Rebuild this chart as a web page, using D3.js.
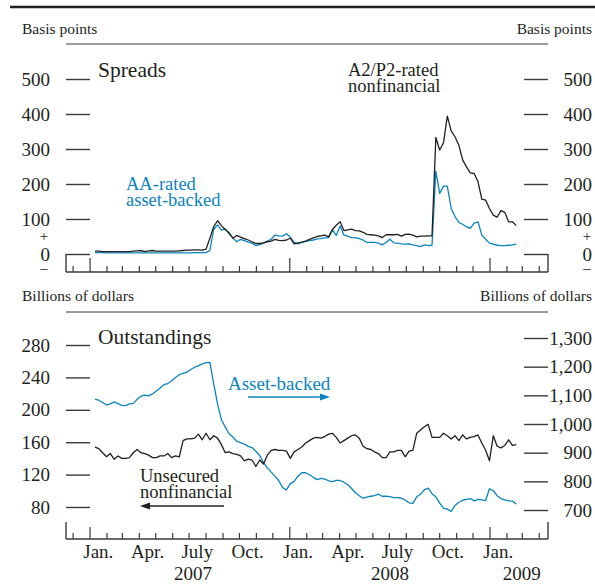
<!DOCTYPE html>
<html>
<head>
<meta charset="utf-8">
<script src="https://cdn.jsdelivr.net/npm/d3@7"></script>
<style>
  html, body { margin: 0; padding: 0; background: #fff; }
  svg text { font-family: "Liberation Serif", "Times New Roman", serif; fill: #231f20; }
</style>
</head>
<body>
<svg id="chart" width="595" height="585"></svg>
<script>
// ---------- DATA (weekly, starting 2007-01-10) ----------
const startDate = new Date(2007, 0, 10);

// Spreads, basis points
const spreadA2P2 = [
  8,8,7,7,7,7,7,7,7,7,
  8,9,10,7,9,10,8,8,8,8,
  8,8,9,10,11,11,12,12,11,14,
  45,78,95,81,70,61,45,53,48,44,
  40,35,30,30,32,35,37,42,39,38,
  40,45,29,32,34,37,42,46,50,52,
  54,49,70,82,92,67,69,71,67,66,
  62,56,55,54,52,47,55,55,55,56,
  51,56,57,54,49,51,51,52,52,333,
  297,318,394,352,335,311,269,249,232,230,
  207,157,154,130,111,105,124,119,92,92,81
];
const spreadAA = [
  4,4,4,3,3,3,3,3,3,3,
  3,3,3,3,3,3,3,3,3,3,
  3,3,3,3,3,3,4,4,4,4,
  10,70,83,68,72,58,46,35,42,38,
  34,31,24,27,31,37,42,54,52,51,
  58,48,33,29,33,36,38,40,43,44,
  46,47,69,53,80,54,51,47,47,44,
  40,33,33,33,31,26,33,42,32,31,
  29,28,29,26,24,21,26,24,25,237,
  173,194,194,130,107,90,85,78,73,88,
  92,54,42,31,28,25,24,24,25,26,28
];

// Outstandings, billions of dollars
const unsecuredNonfin = [
  154,152,147,142,146,139,143,140,140,141,
  147,151,147,146,144,141,141,143,143,146,
  141,143,142,162,164,164,165,170,163,171,
  163,168,165,157,147,148,146,145,143,137,
  139,138,130,138,133,144,150,151,150,150,
  149,140,148,151,154,159,162,165,166,165,
  167,170,171,166,159,162,165,168,169,165,
  155,152,151,148,146,141,141,148,148,150,
  150,142,149,150,171,175,179,182,166,166,
  166,171,168,164,168,162,169,164,166,167,
  169,159,150,137,168,155,153,156,163,156,157
];
const assetBacked = [
  1086,1083,1075,1066,1070,1077,1071,1065,1064,1070,
  1072,1086,1097,1101,1098,1105,1115,1126,1137,1141,
  1150,1162,1172,1177,1181,1190,1198,1203,1210,1214,
  1215,1140,1070,1015,990,966,955,940,935,930,
  922,918,905,890,865,847,832,818,802,778,
  770,792,800,818,830,830,823,814,806,810,
  808,802,799,803,803,797,788,775,760,750,
  741,745,748,750,755,748,748,747,743,743,
  741,735,725,723,746,755,770,776,757,746,
  724,706,703,695,716,727,734,737,740,732,
  737,735,733,774,768,750,740,735,732,731,721
];

// Tick labels
const spreadTicks = [0, 100, 200, 300, 400, 500];
const unsecuredTicks = [80, 120, 160, 200, 240, 280];
const abTicks = [700, 800, 900, 1000, 1100, 1200, 1300];
const monthLabels = [
  ["2007-01","Jan."],["2007-04","Apr."],["2007-07","July"],["2007-10","Oct."],
  ["2008-01","Jan."],["2008-04","Apr."],["2008-07","July"],["2008-10","Oct."],
  ["2009-01","Jan."]
];
const yearLabels = [["2007", new Date(2007,6,8)], ["2008", new Date(2008,6,2)], ["2009", new Date(2009,1,28)]];

// ---------- SETUP ----------
const BLACK = "#231f20", BLUE = "#0b84bd", GREY = "#3a3a3a";
const svg = d3.select("#chart");
const dates = spreadA2P2.map((_, i) => d3.timeDay.offset(startDate, 7 * i));

const x = d3.scaleTime()
  .domain([new Date(2006, 10, 18), new Date(2009, 3, 17)])
  .range([66, 548]);

// top rule
svg.append("line").attr("x1", 10).attr("x2", 595).attr("y1", 7).attr("y2", 7)
  .attr("stroke", BLACK).attr("stroke-width", 2.5);

function header(y, label, ruleY) {
  svg.append("text").attr("x", 22).attr("y", y).attr("font-size", 15.5).text(label);
  svg.append("text").attr("x", 592).attr("y", y).attr("font-size", 15.5)
    .attr("text-anchor", "end").text(label);
  svg.append("line").attr("x1", 66).attr("x2", 548).attr("y1", ruleY).attr("y2", ruleY)
    .attr("stroke", GREY).attr("stroke-width", 1);
}

function leftAxis(scale, ticks, fmt) {
  const g = svg.append("g").attr("transform", "translate(90,0)")
    .call(d3.axisLeft(scale).tickValues(ticks).tickSize(24).tickPadding(16).tickFormat(fmt));
  g.select(".domain").remove();
  g.selectAll(".tick line").attr("stroke", GREY).attr("stroke-width", 1.4);
  g.selectAll(".tick text").attr("font-size", 19).attr("fill", BLACK)
    .style("font-family", '"Liberation Serif", serif');
  return g;
}
function rightAxis(scale, ticks, fmt) {
  const g = svg.append("g").attr("transform", "translate(524,0)")
    .call(d3.axisRight(scale).tickValues(ticks).tickSize(24).tickFormat(fmt));
  g.select(".domain").remove();
  g.selectAll(".tick line").attr("stroke", GREY).attr("stroke-width", 1.4);
  g.selectAll(".tick text").attr("font-size", 19).attr("fill", BLACK)
    .attr("text-anchor", "end").attr("x", 68)
    .style("font-family", '"Liberation Serif", serif');
  return g;
}

function xAxis(baseY, edgeTop, tallLen, smallLen) {
  const g = svg.append("g");
  g.append("line").attr("x1", 66).attr("x2", 548).attr("y1", baseY).attr("y2", baseY)
    .attr("stroke", GREY).attr("stroke-width", 1.4);
  [66, 548].forEach(px => g.append("line").attr("x1", px).attr("x2", px)
    .attr("y1", edgeTop).attr("y2", baseY).attr("stroke", GREY).attr("stroke-width", 1.4));
  const months = d3.timeMonth.range(new Date(2006, 11, 1), new Date(2009, 3, 2));
  g.selectAll("line.m").data(months).join("line").attr("class", "m")
    .attr("x1", d => x(d)).attr("x2", d => x(d))
    .attr("y1", d => baseY - (d.getMonth() === 0 ? tallLen : smallLen))
    .attr("y2", baseY).attr("stroke", GREY).attr("stroke-width", 1.2);
}

// ---------- TOP PANEL: SPREADS ----------
header(34, "Basis points", 44);
const yS = d3.scaleLinear().domain([0, 500]).range([254, 79]);
const fmtS = d => d3.format("d")(d);
leftAxis(yS, spreadTicks, fmtS);
rightAxis(yS, spreadTicks, fmtS);
// + / – signs around zero
[44, 587].forEach(px => {
  svg.append("text").attr("x", px).attr("y", yS(0) - 13).attr("font-size", 15)
    .attr("text-anchor", "middle").text("+");
  svg.append("text").attr("x", px).attr("y", yS(0) + 19).attr("font-size", 15)
    .attr("text-anchor", "middle").text("\u2013");
});
xAxis(272, 254, 14, 6);

const lineS = d3.line().x((d, i) => x(dates[i])).y(d => yS(d));
svg.append("path").datum(spreadAA).attr("d", lineS)
  .attr("fill", "none").attr("stroke", BLUE).attr("stroke-width", 1.3).attr("stroke-linejoin", "round");
svg.append("path").datum(spreadA2P2).attr("d", lineS)
  .attr("fill", "none").attr("stroke", BLACK).attr("stroke-width", 1.3).attr("stroke-linejoin", "round");

svg.append("text").attr("x", 98).attr("y", 77).attr("font-size", 21.5).text("Spreads");
svg.append("text").attr("x", 126).attr("y", 190).attr("font-size", 18.5)
  .style("fill", BLUE).text("AA-rated");
svg.append("text").attr("x", 126).attr("y", 206).attr("font-size", 18.5)
  .style("fill", BLUE).text("asset-backed");
svg.append("text").attr("x", 348).attr("y", 76).attr("font-size", 18.5).text("A2/P2-rated");
svg.append("text").attr("x", 348).attr("y", 92).attr("font-size", 18.5).text("nonfinancial");

// ---------- BOTTOM PANEL: OUTSTANDINGS ----------
header(301, "Billions of dollars", 312);
const yL = d3.scaleLinear().domain([80, 280]).range([507, 345]);
const yR = d3.scaleLinear().domain([700, 1300]).range([510, 338]);
leftAxis(yL, unsecuredTicks, d3.format("d"));
rightAxis(yR, abTicks, d3.format(","));
xAxis(539, 522, 12, 6);

svg.append("path").datum(assetBacked)
  .attr("d", d3.line().x((d, i) => x(dates[i])).y(d => yR(d)))
  .attr("fill", "none").attr("stroke", BLUE).attr("stroke-width", 1.3).attr("stroke-linejoin", "round");
svg.append("path").datum(unsecuredNonfin)
  .attr("d", d3.line().x((d, i) => x(dates[i])).y(d => yL(d)))
  .attr("fill", "none").attr("stroke", BLACK).attr("stroke-width", 1.3).attr("stroke-linejoin", "round");

svg.append("text").attr("x", 98).attr("y", 344).attr("font-size", 21.5).text("Outstandings");
svg.append("text").attr("x", 228).attr("y", 390).attr("font-size", 19).style("fill", BLUE).text("Asset-backed");
svg.append("text").attr("x", 140).attr("y", 482).attr("font-size", 18.5).text("Unsecured");
svg.append("text").attr("x", 140).attr("y", 498).attr("font-size", 18.5).text("nonfinancial");

// arrows
function arrow(x1, x2, y, color) {
  const dir = Math.sign(x2 - x1);
  svg.append("line").attr("x1", x1).attr("x2", x2 - dir * 8).attr("y1", y).attr("y2", y)
    .attr("stroke", color).attr("stroke-width", 1.3);
  svg.append("path")
    .attr("d", `M${x2},${y} L${x2 - dir * 10},${y - 3.5} L${x2 - dir * 10},${y + 3.5} Z`)
    .attr("fill", color);
}
arrow(248, 330, 397, BLUE);
arrow(224, 140, 506, BLACK);

// month and year labels
svg.selectAll("text.month").data(monthLabels).join("text").attr("class", "month")
  .attr("x", d => { const [yy, mm] = d[0].split("-").map(Number); return x(new Date(yy, mm - 1, 16)); })
  .attr("y", 558).attr("font-size", 19).attr("text-anchor", "middle").text(d => d[1]);
svg.selectAll("text.year").data(yearLabels).join("text").attr("class", "year")
  .attr("x", d => x(d[1])).attr("y", 580).attr("font-size", 19).attr("text-anchor", "middle")
  .text(d => d[0]);
</script>
</body>
</html>
